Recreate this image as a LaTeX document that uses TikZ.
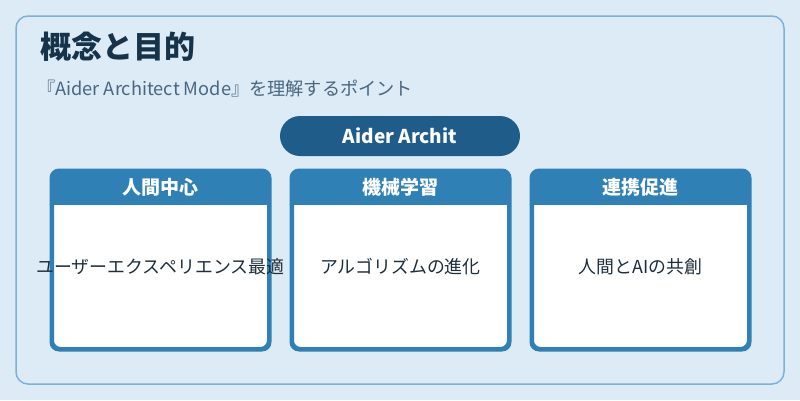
\documentclass[tikz,border=0pt]{standalone}
\usepackage{fontspec}
\setmainfont{Noto Sans CJK JP}
\definecolor{bgc}{HTML}{DCEBF6}
\definecolor{outerc}{HTML}{7AB3D5}
\definecolor{titlec}{HTML}{16334A}
\definecolor{subc}{HTML}{4A6680}
\definecolor{pillc}{HTML}{1F5C8A}
\definecolor{headc}{HTML}{2E80B5}
\definecolor{textc}{HTML}{1E2E3C}
\tikzset{
  panel/.style={draw=outerc, line width=1.5pt, rounded corners=12pt},
  pill/.style={fill=pillc, rounded corners=20pt, minimum width=240pt, minimum height=40pt, inner sep=0pt, text=white, font=\fontsize{19}{21}\selectfont\bfseries},
  card/.style={draw=headc, fill=white, line width=3pt, rounded corners=8pt, minimum width=216pt, minimum height=177pt, inner sep=0pt},
  headtext/.style={text=white, font=\fontsize{19}{21}\selectfont\bfseries},
  bodytext/.style={text=textc, font=\fontsize{17.9}{20}\selectfont},
}
\begin{document}
\begin{tikzpicture}[x=1pt,y=-1pt]
\useasboundingbox (0,0) rectangle (800,400);
\fill[bgc] (0,0) rectangle (800,400);
\draw[panel] (16,16) rectangle (784,384);
\node[anchor=west, text=titlec, font=\fontsize{31}{34}\selectfont\bfseries, inner sep=0pt] (title) at (40,47) {概念と目的};
\node[anchor=west, text=subc, font=\fontsize{18.2}{20}\selectfont, inner sep=0pt] (sub) at (37,89) {『Aider Architect Mode』を理解するポイント};
\node[pill] (pill) at (400,136) {Aider Archit};
\foreach \i/\x/\h/\b in {a/160.5/人間中心/ユーザーエクスペリエンス最適, b/400.5/機械学習/アルゴリズムの進化, c/640.5/連携促進/人間とAIの共創}{
  \node[card] (card\i) at (\x,260) {};
  \begin{scope}
    \clip[rounded corners=8pt] (card\i.north west) rectangle (card\i.south east);
    \fill[headc] (card\i.north west) rectangle ([yshift=-35pt]card\i.north east);
  \end{scope}
  \draw[headc, line width=3pt, rounded corners=8pt] (card\i.north west) rectangle (card\i.south east);
  \node[headtext] (head\i) at ([yshift=-17pt]card\i.north) {\h};
  \node[bodytext] (body\i) at ([yshift=-7pt]card\i.center) {\b};
}
\end{tikzpicture}
\end{document}
